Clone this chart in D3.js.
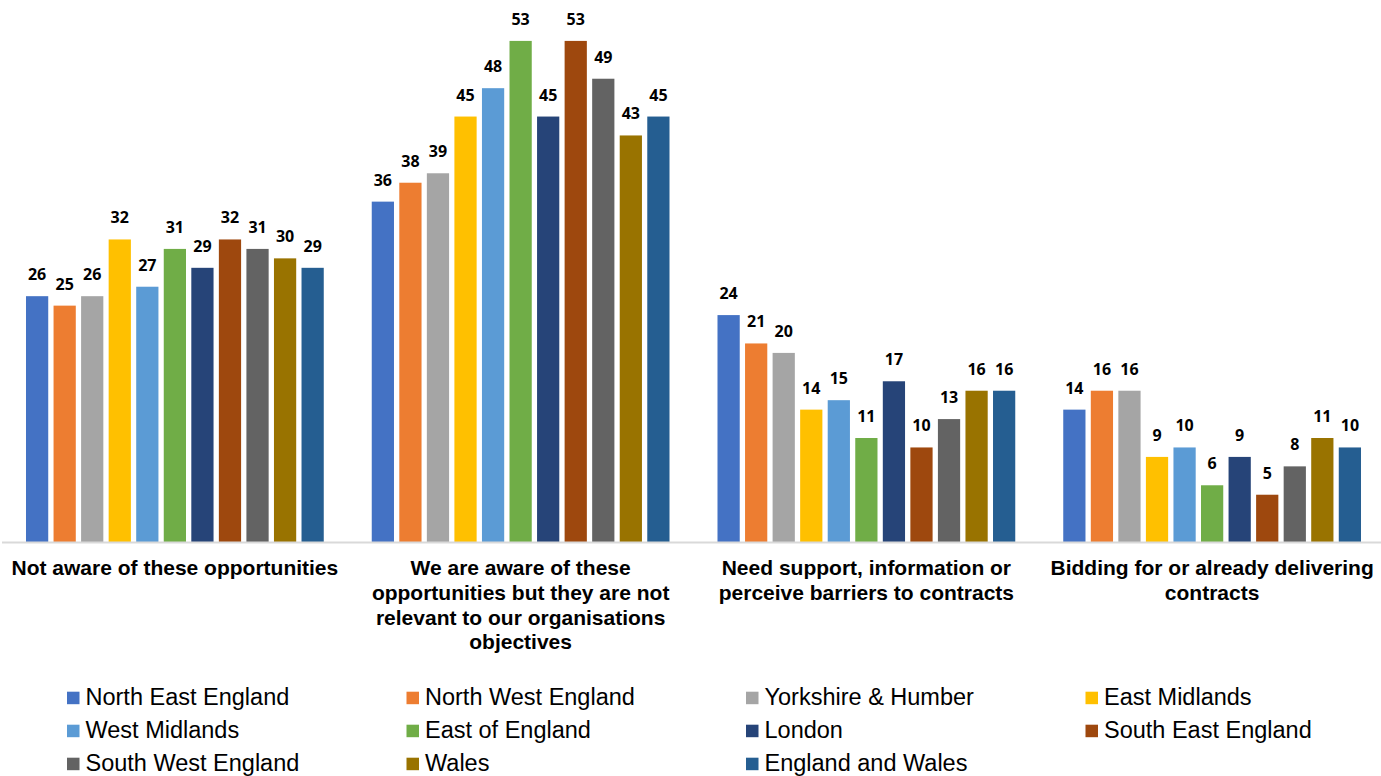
<!DOCTYPE html>
<html>
<head>
<meta charset="utf-8">
<script src="https://cdn.jsdelivr.net/npm/d3@7/dist/d3.min.js"></script>
<style>
  html, body { margin: 0; padding: 0; background: #ffffff; }
  svg { display: block; }
</style>
</head>
<body>
<svg id="chart" width="1381" height="776"></svg>
<script>
// Survey answer groups shown along the x axis
const categories = [
  "Not aware of these opportunities",
  "We are aware of these opportunities but they are not relevant to our organisations objectives",
  "Need support, information or perceive barriers to contracts",
  "Bidding for or already delivering contracts"
];

// Regions (one bar per region inside each group)
const regions = [
  "North East England", "North West England", "Yorkshire & Humber", "East Midlands",
  "West Midlands", "East of England", "London", "South East England",
  "South West England", "Wales", "England and Wales"
];

const regionColors = [
  "#4472C4", "#ED7D31", "#A5A5A5", "#FFC000",
  "#5B9BD5", "#70AD47", "#264478", "#9E480E",
  "#636363", "#997300", "#255E91"
];

// Percentages per region, in category order
const northEast       = [26, 36, 24, 14];
const northWest       = [25, 38, 21, 16];
const yorkshire       = [26, 39, 20, 16];
const eastMidlands    = [32, 45, 14, 9];
const westMidlands    = [27, 48, 15, 10];
const eastOfEngland   = [31, 53, 11, 6];
const london          = [29, 45, 17, 9];
const southEast       = [32, 53, 10, 5];
const southWest       = [31, 49, 13, 8];
const wales           = [30, 43, 16, 11];
const englandAndWales = [29, 45, 16, 10];

const seriesValues = [
  northEast, northWest, yorkshire, eastMidlands, westMidlands, eastOfEngland,
  london, southEast, southWest, wales, englandAndWales
];

const yDomain = [0, 55];

// Flattened rows for drawing
const rows = [];
categories.forEach((cat, ci) => {
  regions.forEach((reg, ri) => {
    rows.push({ category: cat, region: reg, value: seriesValues[ri][ci], color: regionColors[ri] });
  });
});

const svg = d3.select("#chart");

const baseline = 542;
const x0 = d3.scaleBand().domain(categories).range([2, 1385]).paddingInner(0).paddingOuter(0);
const x1 = d3.scaleBand().domain(regions).range([0, x0.bandwidth()]).paddingInner(0.193).paddingOuter(0.871);
const y = d3.scaleLinear().domain(yDomain).range([baseline, 22]);

// Bars
const groups = svg.append("g").attr("class", "bars")
  .selectAll("g")
  .data(categories)
  .join("g")
  .attr("transform", d => `translate(${x0(d)},0)`);

groups.selectAll("rect")
  .data(c => rows.filter(r => r.category === c))
  .join("rect")
  .attr("x", d => x1(d.region))
  .attr("y", d => y(d.value))
  .attr("width", x1.bandwidth())
  .attr("height", d => y(0) - y(d.value))
  .attr("fill", d => d.color);

// Value labels above bars
groups.selectAll("text.value")
  .data(c => rows.filter(r => r.category === c))
  .join("text")
  .attr("class", "value")
  .attr("x", d => x1(d.region) + x1.bandwidth() / 2)
  .attr("y", d => y(d.value) - 16)
  .attr("text-anchor", "middle")
  .attr("font-family", "'Open Sans', sans-serif")
  .attr("font-weight", 700)
  .attr("font-size", "16px")
  .attr("fill", "#000")
  .text(d => d.value);

// Category axis
const xAxis = d3.axisBottom(x0).tickSize(0).tickPadding(0);
const axisG = svg.append("g")
  .attr("transform", `translate(0,${baseline})`)
  .call(xAxis);
axisG.select(".domain")
  .attr("stroke", "#d9d9d9")
  .attr("stroke-width", 2)
  .attr("d", `M2,0.5H1381`);

axisG.selectAll(".tick text")
  .attr("font-family", "'Liberation Sans', Arial, sans-serif")
  .attr("font-weight", 700)
  .attr("font-size", "21px")
  .attr("fill", "#000")
  .attr("y", 33.3)
  .attr("dy", 0)
  .each(function (d) {
    const text = d3.select(this);
    const words = d.split(/\s+/);
    const maxW = x0.bandwidth() - 4;
    const lineH = 24.6;
    text.text(null);
    let line = [];
    let lineNo = 0;
    let tspan = text.append("tspan").attr("x", 0).attr("y", 33.3);
    words.forEach(w => {
      line.push(w);
      tspan.text(line.join(" "));
      if (tspan.node().getComputedTextLength() > maxW && line.length > 1) {
        line.pop();
        tspan.text(line.join(" "));
        line = [w];
        lineNo += 1;
        tspan = text.append("tspan").attr("x", 0).attr("y", 33.3 + lineNo * lineH).text(w);
      }
    });
  });

// Legend, four columns, row-major order
const legend = svg.append("g").attr("class", "legend");
const legendItems = legend.selectAll("g")
  .data(regions)
  .join("g")
  .attr("transform", (d, i) => `translate(${67 + (i % 4) * 339.5},${704.7 + Math.floor(i / 4) * 33})`);

legendItems.append("rect")
  .attr("x", 0)
  .attr("y", -13)
  .attr("width", 12.5)
  .attr("height", 12.5)
  .attr("fill", (d, i) => regionColors[i]);

legendItems.append("text")
  .attr("x", 18.5)
  .attr("y", 0)
  .attr("font-family", "'Liberation Sans', Arial, sans-serif")
  .attr("font-size", "23.5px")
  .attr("fill", "#000")
  .text(d => d);
</script>
</body>
</html>
